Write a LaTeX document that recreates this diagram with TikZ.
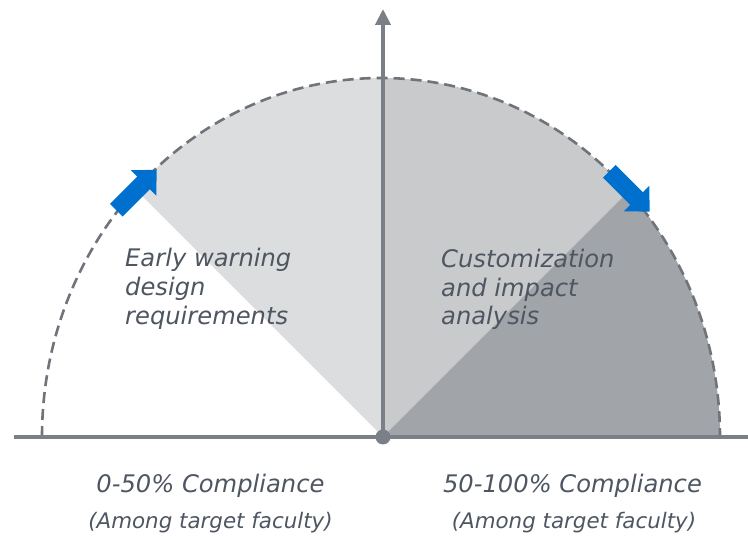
\documentclass[tikz,border=0pt]{standalone}
\usepackage{fontspec}
\setmainfont{DejaVu Sans}
\usetikzlibrary{arrows.meta}
\definecolor{lightfill}{HTML}{DCDDDE}
\definecolor{midfill}{HTML}{C9CACC}
\definecolor{darkfill}{HTML}{A1A4A8}
\definecolor{axiscol}{HTML}{7B8088}
\definecolor{dashcol}{HTML}{6F737A}
\definecolor{arrowblue}{HTML}{0070CF}
\definecolor{textcol}{HTML}{4E5662}
\tikzset{
  axisline/.style={draw=axiscol, line width=4pt},
  dasharc/.style={draw=dashcol, line width=2.6pt, dash pattern=on 11pt off 6pt},
  bluearrow/.style={fill=arrowblue},
  bigtext/.style={text=textcol, inner sep=0pt, font=\fontsize{24.2}{28}\selectfont\itshape},
  smalltext/.style={text=textcol, inner sep=0pt, font=\fontsize{21.4}{24}\selectfont\itshape},
}
\begin{document}
\begin{tikzpicture}[x=1pt,y=1pt]
\useasboundingbox (0,0) rectangle (748,537);
\coordinate (O) at (383,100);
\coordinate (E) at (381,100);
% sectors
\begin{scope}
  \clip (O) -- ++(-600,600) -- (383,700) -- cycle;
  \fill[lightfill] (E) ellipse[x radius=339, y radius=359];
\end{scope}
\begin{scope}
  \clip (O) -- (383,700) -- ++(600,0) -- cycle;
  \fill[midfill] (E) ellipse[x radius=339, y radius=359];
\end{scope}
\begin{scope}
  \clip (O) -- ++(600,600) -- (983,100) -- cycle;
  \fill[darkfill] (E) ellipse[x radius=339, y radius=359];
\end{scope}
% dashed arc
\draw[dasharc] (42,100) arc[start angle=180, end angle=0, x radius=339, y radius=359];
% axes
\coordinate (xl) at (14,100);
\coordinate (xr) at (748,100);
\coordinate (top) at (383,528);
\draw[axisline, line width=3.6pt] (xl) -- (xr);
\draw[axisline, -{Triangle[width=15pt,length=16pt]}] (O) -- (top);
\fill[axiscol] (O) circle (7.5);
% blue arrows
\coordinate (PL) at (136.5,347);
\coordinate (PR) at (629.5,345.5);
\begin{scope}[shift={(PL)}, rotate=45]
  \fill[bluearrow] (-28.5,-9) -- (10,-9) -- (10,-18) -- (28.5,0) -- (10,18) -- (10,9) -- (-28.5,9) -- cycle;
\end{scope}
\begin{scope}[shift={(PR)}, rotate=-45]
  \fill[bluearrow] (-28.5,-9) -- (10,-9) -- (10,-18) -- (28.5,0) -- (10,18) -- (10,9) -- (-28.5,9) -- cycle;
\end{scope}
% texts
\node[bigtext, anchor=base west] (l1) at (125,270) {Early warning};
\node[bigtext, anchor=base west] (l2) at (125,241) {design};
\node[bigtext, anchor=base west] (l3) at (125,212) {requirements};
\node[bigtext, anchor=base west] (r1) at (441,269) {Customization};
\node[bigtext, anchor=base west] (r2) at (441,240) {and impact};
\node[bigtext, anchor=base west] (r3) at (441,212) {analysis};
\node[bigtext, anchor=base] (c1) at (210.5,44) {0-50\% Compliance};
\node[smalltext, anchor=base] (c2) at (210.5,8) {(Among target faculty)};
\node[bigtext, anchor=base] (c3) at (572.5,44) {50-100\% Compliance};
\node[smalltext, anchor=base] (c4) at (574,8) {(Among target faculty)};
\end{tikzpicture}
\end{document}
